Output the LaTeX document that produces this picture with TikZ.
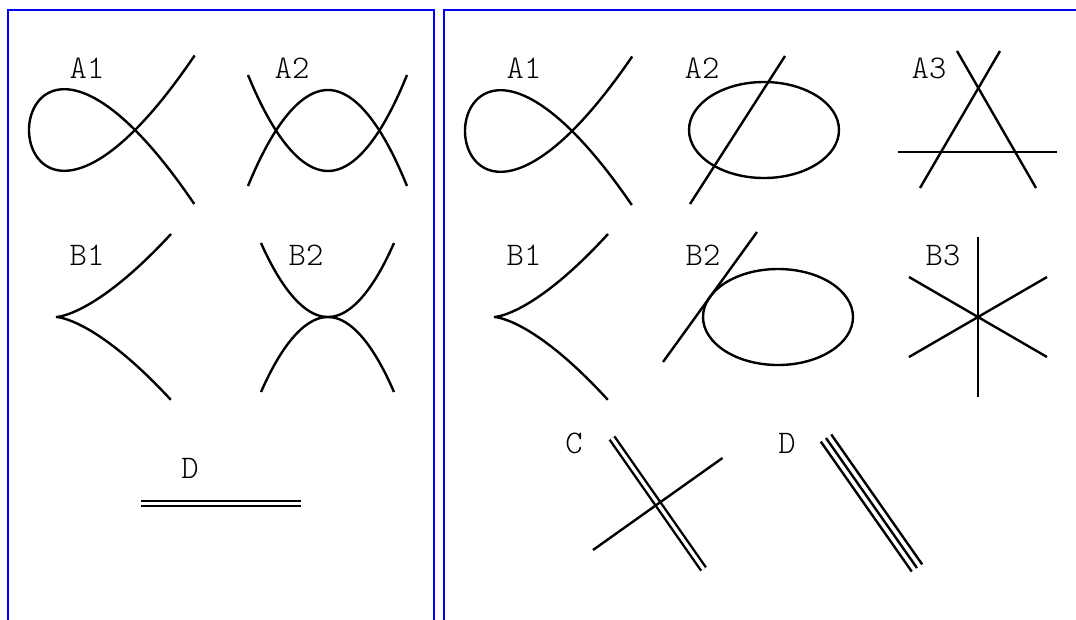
\documentclass[tikz,border=0pt]{standalone}
\usepackage{tikz}

\begin{document}
\begin{tikzpicture}[
    x=1pt,y=-1pt,
    frame/.style={draw=blue,line width=2.6pt},
    curve/.style={draw=black,line width=2.4pt},
    twin/.style={curve,double=white,double distance=#1},
    lbl/.style={font=\ttfamily\fontseries{l}\fontsize{33}{38}\selectfont,inner sep=0pt}
  ]
    \useasboundingbox (0,0) rectangle (1076,619);

    \draw[frame] (8,625) -- (8,10) -- (434,10) -- (434,625);
    \draw[frame] (444,625) -- (444,10) -- (1080,10);

    % left panel
    \node[lbl] (lA1) at (87,68) {A1};
    \draw[curve] plot[domain=-1.25:1.25,samples=120,smooth] ({135+106*(\x*\x-1)},{130+106*\x*(\x*\x-1)});

    \node[lbl] (lA2) at (292,68) {A2};
    \draw[curve] (248,186) parabola bend (328,90) (407,186);
    \draw[curve] (248,75) parabola bend (328,171) (407,75);

    \node[lbl] (lB1) at (87,255) {B1};
    \draw[curve] plot[domain=-1:1,samples=120,smooth] ({56+115*\x*\x},{317+83*\x*\x*\x});

    \node[lbl] (lB2) at (306,255) {B2};
    \draw[curve] (261,243) parabola bend (328,317) (394,243);
    \draw[curve] (261,392) parabola bend (328,317) (394,392);

    \node[lbl] (lD) at (190,468) {D};
    \draw[twin=2.8pt] (141,503.5) -- (301,503.5);

    % right panel
    \node[lbl] (rA1) at (524,68) {A1};
    \draw[curve] plot[domain=-1.25:1.25,samples=120,smooth] ({572+107*(\x*\x-1)},{131+106*\x*(\x*\x-1)});

    \node[lbl] (rA2) at (702,68) {A2};
    \draw[curve] (764,130) ellipse[x radius=75pt,y radius=48pt];
    \draw[curve] (690,204) -- (785,56);

    \node[lbl] (rA3) at (929,68) {A3};
    \draw[curve] (898,152) -- (1057,152);
    \draw[curve] (920,188) -- (1000,51);
    \draw[curve] (957,51) -- (1036,188);

    \node[lbl] (rB1) at (524,255) {B1};
    \draw[curve] plot[domain=-1:1,samples=120,smooth] ({494+114*\x*\x},{317+83*\x*\x*\x});

    \node[lbl] (rB2) at (703,255) {B2};
    \draw[curve] (778,317) ellipse[x radius=75pt,y radius=48pt];
    \draw[curve] (663,362) -- (757,232);

    \node[lbl] (rB3) at (943,255) {B3};
    \draw[curve] (978,237) -- (978,397);
    \draw[curve] (909,277) -- (1047,357);
    \draw[curve] (909,357) -- (1047,277);

    \node[lbl] (rC) at (574,443) {C};
    \draw[twin=3.3pt] (612,438) -- (703.5,569);
    \draw[curve] (593,550) -- (722.5,458);

    \node[lbl] (rD) at (787,443) {D};
    \foreach \o in {-1,0,1}
      \draw[curve,shift={(5.2*\o,-3.6*\o)}] (826,438) -- (917,568);
  \end{tikzpicture}
\end{document}
